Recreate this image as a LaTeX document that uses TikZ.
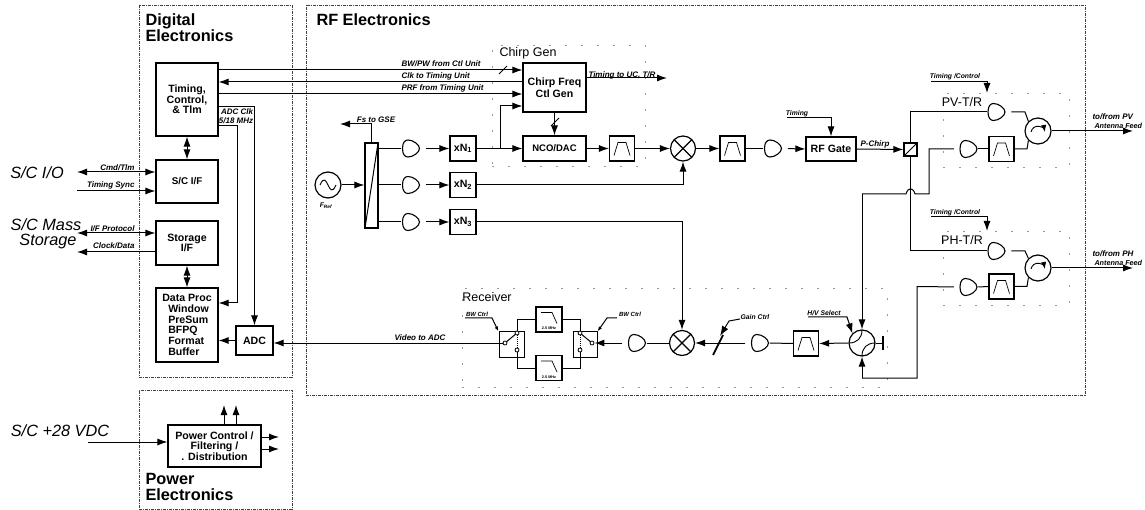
\documentclass[tikz,border=0pt]{standalone}
\usepackage{fontspec}
\setmainfont{Liberation Sans}
\usetikzlibrary{arrows.meta}
\newcommand{\ampoutline}{(-8.5pt,0pt) .. controls (-8.5pt,6pt) and (-6pt,8.5pt) .. (-3pt,8.5pt) .. controls (2pt,8.5pt) and (8.5pt,4pt) .. (8.5pt,0pt) .. controls (8.5pt,-4pt) and (2pt,-8.5pt) .. (-3pt,-8.5pt) .. controls (-6pt,-8.5pt) and (-8.5pt,-6pt) .. (-8.5pt,0pt) -- cycle}
\tikzset{
    regionbox/.style={draw=black!75, densely dashdotted, line width=0.7pt, inner sep=0pt},
    subbox/.style={draw=black!40, dash pattern=on 2pt off 14pt, line width=0.5pt, inner sep=0pt},
    blockbox/.style={draw, line width=1.2pt, align=center, inner sep=1pt, font=\fontsize{10.6}{10.7}\selectfont\bfseries},
    filterbox/.style={draw, line width=1.2pt, minimum size=25pt, inner sep=0pt, path picture={
        \draw[line width=0.7pt, shift={(path picture bounding box.center)}] (-8pt,-7pt) -- (-4pt,6pt) -- (4pt,6pt) -- (8pt,-7pt);}},
    lpfbox/.style={draw, line width=1.2pt, minimum width=26pt, minimum height=25pt, inner sep=0pt, path picture={
        \draw[line width=0.7pt, shift={(path picture bounding box.center)}] (-8pt,7pt) -- (3pt,7pt) -- (8pt,-4pt);}},
    mixer/.style={draw, circle, line width=1.2pt, minimum size=25pt, inner sep=0pt, path picture={
        \draw[line width=1.2pt] (path picture bounding box.south west) -- (path picture bounding box.north east);
        \draw[line width=1.2pt] (path picture bounding box.north west) -- (path picture bounding box.south east);}},
    circulator/.style={draw, circle, line width=1.2pt, minimum size=26pt, inner sep=0pt, path picture={
        \draw[-{Latex[length=7pt,width=5.5pt]}, line width=0.9pt, shift={(path picture bounding box.center)}] (-7pt,-1pt) arc (170:10:7pt);}},
    hvswitch/.style={draw, circle, line width=1.2pt, minimum size=26pt, inner sep=0pt, path picture={
        \draw[line width=0.9pt, shift={(path picture bounding box.center)}] (-13pt,0pt) .. controls (-5pt,0pt) and (0pt,5pt) .. (0pt,13pt);
        \draw[line width=0.9pt, shift={(path picture bounding box.center)}] (13pt,0pt) .. controls (5pt,0pt) and (0pt,-5pt) .. (0pt,-13pt);}},
    oscillator/.style={draw, circle, line width=1.2pt, minimum size=26pt, inner sep=0pt, path picture={
        \draw[line width=0.9pt, shift={(path picture bounding box.center)}] (-8pt,0pt) .. controls (-4pt,9pt) and (-2pt,4pt) .. (0pt,0pt) .. controls (2pt,-4pt) and (4pt,-9pt) .. (8pt,0pt);}},
    diagbox/.style={draw, line width=1.2pt, inner sep=0pt, path picture={
        \draw[line width=1pt] (path picture bounding box.south west) -- (path picture bounding box.north east);}},
    ampright/.style={minimum size=18.5pt, inner sep=0pt, path picture={
        \draw[line width=1.1pt, shift={(path picture bounding box.center)}] \ampoutline;}},
    ampleft/.style={minimum size=18.5pt, inner sep=0pt, path picture={
        \draw[line width=1.1pt, shift={(path picture bounding box.center)}, xscale=-1] \ampoutline;}},
    contact/.style={draw, circle, fill=white, line width=0.8pt, minimum size=4pt, inner sep=0pt},
    sidetext/.style={font=\fontsize{16.3}{18}\selectfont\itshape, inner sep=0pt},
    regiontext/.style={font=\fontsize{16.3}{16}\selectfont\bfseries, align=left, anchor=north west, inner sep=0pt},
    unittext/.style={font=\fontsize{12.5}{14}\selectfont, inner sep=0pt},
    siglabel/.style={font=\fontsize{8}{9}\selectfont\bfseries\itshape, inner sep=0pt},
    tinylabel/.style={font=\fontsize{6.8}{8}\selectfont\bfseries\itshape, inner sep=0pt},
    wire/.style={line width=1pt}
}
\begin{document}
\begin{tikzpicture}[x=1pt, y=-1pt, >={Latex[length=10pt,width=7pt]}, every path/.append style={wire}]
    \useasboundingbox (0,0) rectangle (1145,510);

    \node (digital) at (215.5,191) [regionbox, minimum width=153pt, minimum height=372pt] {};
    \node (powerreg) at (215.5,449.5) [regionbox, minimum width=153pt, minimum height=119pt] {};
    \node (rfreg) at (695.5,200) [regionbox, minimum width=779pt, minimum height=390pt] {};
    \node (chirpreg) at (568.5,105.5) [subbox, minimum width=153pt, minimum height=121pt] {};
    \node (pvreg) at (1006,130) [subbox, minimum width=126pt, minimum height=74pt] {};
    \node (phreg) at (1006,268) [subbox, minimum width=126pt, minimum height=74pt] {};
    \node (rxreg) at (674.5,337.5) [subbox, minimum width=425pt, minimum height=99pt] {};

    \node (digitaltxt) at (145,13.5) [regiontext] {Digital\\Electronics};
    \node (rftxt) at (316,13.5) [regiontext] {RF Electronics};
    \node (powertxt) at (145,472.5) [regiontext] {Power\\Electronics};
    \node (chirptxt) at (528,53) [unittext] {Chirp Gen};
    \node (rxtxt) at (487,297) [unittext] {Receiver};
    \node (pvtxt) at (962,102) [unittext] {PV-T/R};
    \node (phtxt) at (962,240) [unittext] {PH-T/R};

    \node (timing) at (187,99.5) [blockbox, minimum width=62pt, minimum height=73pt] {Timing,\\Control,\\\& Tlm};
    \node (scif) at (187,181.5) [blockbox, minimum width=62pt, minimum height=43pt, font=\fontsize{9.8}{11}\selectfont\bfseries] {S/C I/F};
    \node (storage) at (187,243) [blockbox, minimum width=62pt, minimum height=44pt] {Storage\\I/F};
    \node (dataproc) at (187,325) [blockbox, minimum width=62pt, minimum height=74pt, align=left] {Data Proc\\\hspace*{6pt}Window\\\hspace*{6pt}PreSum\\\hspace*{6pt}BFPQ\\\hspace*{6pt}Format\\\hspace*{6pt}Buffer};
    \node (adc) at (254.5,340.5) [blockbox, minimum width=37pt, minimum height=29pt] {ADC};
    \node (powerbox) at (214.5,446) [blockbox, minimum width=93pt, minimum height=42pt] {Power Control /\\Filtering /\\. Distribution};

    \node (osc) at (328,185) [oscillator] {};
    \node (fref) at (326,206) [tinylabel] {F\textsubscript{Ref}};
    \node (splitter) at (371.5,185.5) [diagbox, minimum width=13pt, minimum height=85pt] {};
    \node (ampone) at (411,148.5) [ampright] {};
    \node (amptwo) at (411,185) [ampright] {};
    \node (ampthree) at (411,222) [ampright] {};
    \node (xnone) at (463,148.5) [blockbox, minimum width=26pt, minimum height=25pt] {xN\textsubscript{1}};
    \node (xntwo) at (463,185) [blockbox, minimum width=26pt, minimum height=25pt] {xN\textsubscript{2}};
    \node (xnthree) at (463,222) [blockbox, minimum width=26pt, minimum height=25pt] {xN\textsubscript{3}};
    \node (chirp) at (554.5,87.5) [blockbox, minimum width=63pt, minimum height=49pt, font=\fontsize{10.6}{11.5}\selectfont\bfseries] {Chirp Freq\\Ctl Gen};
    \node (nco) at (554.5,148.5) [blockbox, minimum width=63pt, minimum height=25pt, font=\fontsize{9.5}{11}\selectfont\bfseries] {NCO/DAC};
    \node (filterone) at (622,148.5) [filterbox] {};
    \node (mixerone) at (683,148.5) [mixer] {};
    \node (filtertwo) at (732.5,148.5) [filterbox] {};
    \node (ampgate) at (773,148.5) [ampright] {};
    \node (gate) at (831,149) [blockbox, minimum width=50pt, minimum height=24pt] {RF Gate};
    \node (duplex) at (910.5,149.5) [diagbox, minimum size=13pt] {};

    \node (amppv) at (996.5,112) [ampright] {};
    \node (amppvrx) at (968.5,149) [ampleft] {};
    \node (filterpv) at (1001.5,149) [filterbox] {};
    \node (circpv) at (1038,131) [circulator] {};
    \node (ampph) at (996.5,251) [ampright] {};
    \node (ampphrx) at (968.5,287) [ampleft] {};
    \node (filterph) at (1001.5,286.5) [filterbox] {};
    \node (circph) at (1038,268) [circulator] {};

    \node (hvsw) at (862,343) [hvswitch] {};
    \node (filterrx) at (806,343.5) [filterbox] {};
    \node (amprx) at (760,343) [ampleft] {};
    \node (mixertwo) at (682,343) [mixer] {};
    \node (ampif) at (637,343) [ampleft] {};
    \node (rxright) at (585,344.5) [draw, line width=1pt, minimum width=24pt, minimum height=25pt, inner sep=0pt] {};
    \node (rxleft) at (511.5,344.5) [draw, line width=1pt, minimum width=25pt, minimum height=25pt, inner sep=0pt] {};
    \node (lpftop) at (549,319.5) [lpfbox] {};
    \node (lpfbot) at (549,368) [lpfbox] {};
    \node (lpftoptxt) at (549,328.5) [siglabel, font=\fontsize{3.8}{4}\selectfont\bfseries] {2.5 MHz};
    \node (lpfbottxt) at (549,377) [siglabel, font=\fontsize{3.8}{4}\selectfont\bfseries] {2.5 MHz};

    \node (lcommon) at (505,343) [contact] {};
    \node (ltop) at (517,333) [contact] {};
    \node (lbot) at (517,350) [contact] {};
    \node (rcommon) at (592,343) [contact] {};
    \node (rtop) at (580,333) [contact] {};
    \node (rbot) at (580,350) [contact] {};

    \node (scio) at (37,173) [sidetext] {S/C I/O};
    \node (scmass) at (46,225) [sidetext] {S/C Mass};
    \node (scstore) at (48,242) [sidetext] {Storage};
    \node (scvdc) at (60,431) [sidetext] {S/C +28 VDC};

    \coordinate (ioleft) at (77,172);
    \coordinate (syncleft) at (77,191);
    \coordinate (protoleft) at (77,233);
    \coordinate (dataleft) at (77,252);
    \coordinate (vdcleft) at (88,442);
    \draw[<->] (ioleft) -- (scif.west |- ioleft);
    \draw[->] (syncleft) -- (scif.west |- syncleft);
    \draw[<->] (protoleft) -- (storage.west |- protoleft);
    \draw[->] (storage.west |- dataleft) -- (dataleft);
    \draw[->] (vdcleft) -- (powerbox.west |- vdcleft);
    \node (cmdlbl) at (135,168) [siglabel, anchor=east] {Cmd/Tlm};
    \node (synclbl) at (135,185) [siglabel, anchor=east] {Timing Sync};
    \node (protolbl) at (135,229) [siglabel, anchor=east] {I/F Protocol};
    \node (datalbl) at (135,246) [siglabel, anchor=east] {Clock/Data};

    \draw[<->] (timing.south) -- (scif.north);
    \draw[<->] (storage.south) -- (dataproc.north);
    \draw[->] (adc.west) -- (dataproc.east |- adc.west);
    \coordinate (clktap) at (237,126);
    \coordinate (adctap) at (254.5,107);
    \draw[->] (timing.east |- adctap) -- (adctap) -- (adc.north);
    \draw[->] (timing.east |- clktap) -- (clktap) |- (dataproc.east |- 0,303);
    \node (adclbl) at (237,112) [siglabel] {ADC Clk};
    \node (mhzlbl) at (236,121) [siglabel] {5/18 MHz};

    \draw[->] (powerbox.north -| 224,0) -- (224,405);
    \draw[->] (powerbox.north -| 236,0) -- (236,405);
    \draw[->] (powerbox.east |- 0,437) -- (279,437);
    \draw[->] (powerbox.east |- 0,449) -- (279,449);

    \draw[->] (timing.east |- 0,70) -- (chirp.west |- 0,70);
    \draw[->] (chirp.west |- 0,82) -- (timing.east |- 0,82);
    \draw[->] (timing.east |- 0,94) -- (chirp.west |- 0,94);
    \coordinate (busslash) at (503,70);
    \draw ([shift={(-4,4)}]busslash) -- ([shift={(4,-4)}]busslash);
    \node (bwlbl) at (401,64) [siglabel, anchor=west] {BW/PW from Ctl Unit};
    \node (clklbl) at (401,76) [siglabel, anchor=west] {Clk to Timing Unit};
    \node (prflbl) at (401,88) [siglabel, anchor=west] {PRF from Timing Unit};
    \coordinate (uctip) at (667,78);
    \draw[->] (chirp.east |- uctip) -- (uctip);
    \node (uclbl) at (622,75) [siglabel] {Timing to UC, T/R};

    \draw[->] (osc.east) -- (splitter.west |- osc.east);
    \coordinate (gsetip) at (340,124);
    \draw[->] (splitter.north) |- (gsetip);
    \node (gselbl) at (376,120) [siglabel] {Fs to GSE};
    \draw (splitter.east |- ampone.west) -- (ampone.west);
    \draw (splitter.east |- amptwo.west) -- (amptwo.west);
    \draw (splitter.east |- ampthree.west) -- (ampthree.west);
    \draw[->, shorten <=5pt] (ampone.east) -- (xnone.west);
    \draw[->, shorten <=5pt] (amptwo.east) -- (xntwo.west);
    \draw[->, shorten <=5pt] (ampthree.east) -- (xnthree.west);

    \draw[->] (xnone.east) -- (nco.west);
    \coordinate (xntap) at (500,148.5);
    \draw[->] (xntap) |- (chirp.west |- 0,106);
    \draw[->] (chirp.south) -- (nco.north);
    \coordinate (ncoslash) at (555,122);
    \draw ([shift={(-4,4)}]ncoslash) -- ([shift={(4,-4)}]ncoslash);
    \draw[->] (nco.east) -- (filterone.west);
    \draw[->] (filterone.east) -- (mixerone.west);
    \draw[->] (mixerone.east) -- (filtertwo.west);
    \draw (filtertwo.east) -- (ampgate.west);
    \draw[->, shorten <=5pt] (ampgate.east) -- (gate.west);
    \draw[->] (gate.east) -- (duplex.west);
    \node (chirplbl) at (875,144) [siglabel] {P-Chirp};
    \draw[->] (xntwo.east) -| (mixerone.south);
    \draw[->] (xnthree.east) -| (mixertwo.north);

    \coordinate (gatectl) at (787,118);
    \draw[->] (gatectl) -| (gate.north);
    \node (gatelbl) at (797,114) [tinylabel] {Timing};
    \coordinate (pvctl) at (931,82);
    \coordinate (pvtip) at (987,93);
    \draw[->] (pvctl) -| (pvtip);
    \node (pvlbl) at (955,77) [tinylabel] {Timing /Control};
    \coordinate (phctl) at (931,217);
    \coordinate (phtip) at (987,231);
    \draw[->] (phctl) -| (phtip);
    \node (phlbl) at (955,213) [tinylabel] {Timing /Control};

    \draw (duplex.north) |- (amppv.west);
    \draw (duplex.south) |- (ampph.west);
    \draw[shorten <=5pt] (amppv.east) -- (1025,112) -- (circpv.135);
    \draw (filterpv.east) -- (1027,149) -- (circpv.225);
    \draw (filterpv.west) -- (amppvrx.east);
    \draw[shorten <=5pt] (ampph.east) -- (1025,251) -- (circph.135);
    \draw (filterph.east) -- (1027,286.5) -- (circph.225);
    \draw (filterph.west) -- (ampphrx.east);

    \coordinate (pvrxturn) at (929,149);
    \coordinate (hopright) at (915,194);
    \coordinate (hopleft) at (906,194);
    \coordinate (pvrxdrop) at (862,194);
    \draw[shorten <=5pt] (amppvrx.west) -- (pvrxturn) -- (929,194) -- (hopright) .. controls (913,187) and (908,187) .. (hopleft) -- (pvrxdrop);
    \draw[->] (pvrxdrop) -- (hvsw.north);
    \coordinate (phrxturn) at (917,286.5);
    \coordinate (phrxdrop) at (862,378);
    \draw[shorten <=5pt] (ampphrx.west) -- (phrxturn) -- (917,378) -- (phrxdrop);
    \draw[->] (phrxdrop) -- (hvsw.south);

    \coordinate (pvfeed) at (1133,131);
    \coordinate (phfeed) at (1133,268);
    \draw[->] (circpv.east) -- (pvfeed);
    \draw[->] (circph.east) -- (phfeed);
    \node (pvfeedone) at (1092,117) [siglabel, anchor=west] {to/from PV};
    \node (pvfeedtwo) at (1094,126) [tinylabel, anchor=west, font=\fontsize{7.2}{8}\selectfont\bfseries\itshape] {Antenna Feed};
    \node (phfeedone) at (1092,254) [siglabel, anchor=west] {to/from PH};
    \node (phfeedtwo) at (1094,263) [tinylabel, anchor=west, font=\fontsize{7.2}{8}\selectfont\bfseries\itshape] {Antenna Feed};

    \coordinate (loadstub) at (883,343);
    \draw (hvsw.east) -- (loadstub);
    \draw[line width=2.2pt] ([yshift=-7pt]loadstub) -- ([yshift=7pt]loadstub);
    \draw[->] (hvsw.west) -- (filterrx.east);
    \draw (filterrx.west) -- (amprx.east);
    \coordinate (hvctl) at (808,317);
    \draw[->] (hvctl) -- (847,317) -- (hvsw.135);
    \node (hvlbl) at (824,313) [tinylabel] {H/V Select};

    \draw[->, shorten <=5pt] (amprx.west) -- (mixertwo.east);
    \coordinate (atten) at (718,345);
    \draw[line width=1.8pt] ([shift={(-5,10)}]atten) -- ([shift={(5,-10)}]atten);
    \coordinate (gainctl) at (740,319);
    \draw[->] (gainctl) -- (729,321) -- (720,336);
    \node (gainlbl) at (755,317) [tinylabel] {Gain Ctrl};

    \draw (mixertwo.west) -- (ampif.east);
    \draw[->, shorten <=5pt] (ampif.west) -- (rcommon.east);
    \draw (rcommon) -- (rtop);
    \draw (rtop) |- (lpftop.east);
    \draw (rbot) |- (lpfbot.east);
    \draw[densely dotted, line width=0.6pt] (rtop) -- (rbot);
    \draw (lcommon) -- (ltop);
    \draw (ltop) |- (lpftop.west);
    \draw (lbot) |- (lpfbot.west);
    \draw[densely dotted, line width=0.6pt] (ltop) -- (lbot);
    \draw[->] (lcommon.west) -- (adc.east |- lcommon.west);
    \node (videolbl) at (420,338) [siglabel] {Video to ADC};

    \coordinate (bwleft) at (465,318);
    \coordinate (bwright) at (617,318);
    \draw[-{Latex[length=5pt,width=3.5pt]}] (bwleft) -- (492,318) -- (rxleft.north west);
    \draw[-{Latex[length=5pt,width=3.5pt]}] (bwright) -- (607,318) -- (rxright.north east);
    \node (bwlbll) at (477,314) [tinylabel, font=\fontsize{6}{7}\selectfont\bfseries\itshape] {BW Ctrl};
    \node (bwlblr) at (630,314) [tinylabel, font=\fontsize{6}{7}\selectfont\bfseries\itshape] {BW Ctrl};
\end{tikzpicture}
\end{document}
